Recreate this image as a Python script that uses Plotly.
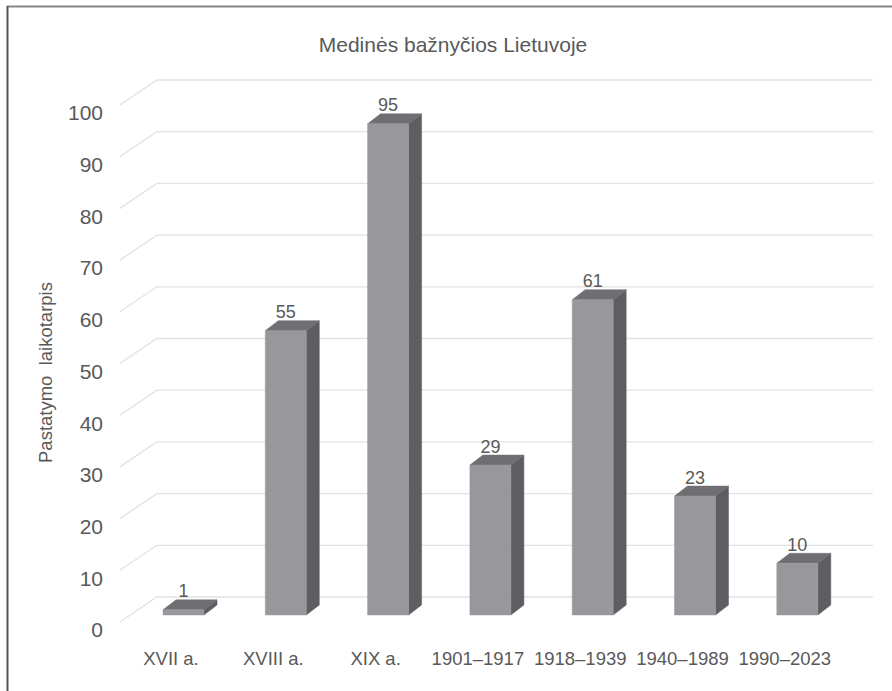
import plotly.graph_objects as go

# ---------------- data ----------------
categories = ["XVII a.", "XVIII a.", "XIX a.", "1901–1917", "1918–1939", "1940–1989", "1990–2023"]
values = [1, 55, 95, 29, 61, 23, 10]
y_ticks = [0, 10, 20, 30, 40, 50, 60, 70, 80, 90, 100]
chart_title = "Medinės bažnyčios Lietuvoje"
y_title = "Pastatymo\u00a0 laikotarpis"

# ---------------- geometry (pixels -> axis units) ----------------
W, H = 892, 691
CAT_PX = 102.3          # px per category
X0_PX = 171.0           # px of first category centre (front plane)
PX_PER_UNIT = 5.17      # px per value unit
Y0_PX = 622.0           # px of value 0 (front plane)

WALL_DX = 37 / CAT_PX
WALL_DY = 25 / PX_PER_UNIT
BAR_FX = 12.5 / CAT_PX
BAR_FY = 7 / PX_PER_UNIT
BAR_DX = 13 / CAT_PX
BAR_DY = 10 / PX_PER_UNIT
BAR_W = 41 / CAT_PX
LABEL_SHIFT = 8 / PX_PER_UNIT
VALUE_LABEL_DROP = 2 / PX_PER_UNIT

PLOT_LEFT_PX = 104
PLOT_BOTTOM_PX = 645

x_range = [(PLOT_LEFT_PX - X0_PX) / CAT_PX, (W - X0_PX) / CAT_PX]
y_range = [(Y0_PX - PLOT_BOTTOM_PX) / PX_PER_UNIT, Y0_PX / PX_PER_UNIT]

TEXT = "#595959"
FONT = "Liberation Sans"
FRONT = "#98989c"
SIDE = "#5e5e62"
TOP = "#6f6f73"
GRID = "#e2e2e2"

n = len(categories)
idx = list(range(n))

fig = go.Figure()

# gridlines on back wall + left wall
gx, gy = [], []
for t in y_ticks:
    gx += [-0.5, -0.5 + WALL_DX, (n - 0.5) + WALL_DX, None]
    gy += [t, t + WALL_DY, t + WALL_DY, None]
fig.add_trace(go.Scatter(x=gx, y=gy, mode="lines", line=dict(color=GRID, width=1.3),
                         hoverinfo="skip", showlegend=False))

# faces of the 3-D columns
fx, fy, sx, sy, tx, ty = [], [], [], [], [], []
for i, v in zip(idx, values):
    xl = i + BAR_FX - BAR_W / 2
    xr = i + BAR_FX + BAR_W / 2
    b = BAR_FY
    fx += [xl, xr, xr, xl, xl, None]
    fy += [b, b, b + v, b + v, b, None]
    sx += [xr, xr + BAR_DX, xr + BAR_DX, xr, xr, None]
    sy += [b, b + BAR_DY, b + v + BAR_DY, b + v, b, None]
    tx += [xl, xr, xr + BAR_DX, xl + BAR_DX, xl, None]
    ty += [b + v, b + v, b + v + BAR_DY, b + v + BAR_DY, b + v, None]
for px_, py_, col in ((sx, sy, SIDE), (tx, ty, TOP), (fx, fy, FRONT)):
    fig.add_trace(go.Scatter(x=px_, y=py_, mode="lines", fill="toself", fillcolor=col,
                             line=dict(color=col, width=0.5), hoverinfo="skip", showlegend=False))

# value labels
fig.add_trace(go.Scatter(x=[i + BAR_FX for i in idx],
                         y=[BAR_FY + v + BAR_DY - VALUE_LABEL_DROP for v in values],
                         mode="text", text=[str(v) for v in values], textposition="top center",
                         textfont=dict(family=FONT, size=18, color=TEXT),
                         hoverinfo="skip", showlegend=False))

fig.update_layout(
    width=W, height=H, template="none",
    margin=dict(l=0, r=0, t=0, b=0),
    paper_bgcolor="white", plot_bgcolor="rgba(0,0,0,0)",
    title=dict(text=chart_title, x=453 / W, y=1 - 45 / H, xanchor="center", yanchor="middle",
               font=dict(family=FONT, size=21, color=TEXT)),
    xaxis=dict(domain=[PLOT_LEFT_PX / W, 1], range=x_range, tickmode="array", tickvals=idx,
               ticktext=categories, showgrid=False, zeroline=False, showline=False, ticks="",
               tickfont=dict(family=FONT, size=18.5, color=TEXT), fixedrange=True),
    yaxis=dict(domain=[(H - PLOT_BOTTOM_PX) / H, 1], range=y_range, tickmode="array",
               tickvals=[t - LABEL_SHIFT for t in y_ticks], ticktext=[str(t) for t in y_ticks],
               showgrid=False, zeroline=False, showline=False, ticks="",
               tickfont=dict(family=FONT, size=21, color=TEXT), fixedrange=True),
    annotations=[dict(text=y_title, xref="paper", yref="paper", x=45 / W, y=1 - 373 / H,
                      textangle=-90, showarrow=False, xanchor="center", yanchor="middle",
                      font=dict(family=FONT, size=18.5, color=TEXT))],
    shapes=[
        dict(type="line", xref="paper", yref="paper", x0=7 / W, x1=1, y0=1 - 6.5 / H, y1=1 - 6.5 / H,
             line=dict(color="#858585", width=2)),
        dict(type="line", xref="paper", yref="paper", x0=7.5 / W, x1=7.5 / W, y0=0, y1=1 - 6 / H,
             line=dict(color="#555555", width=2)),
    ],
)

fig.write_html("out.html", config={"displayModeBar": False, "staticPlot": True},
               post_script="document.body.style.margin='0px';document.body.style.overflow='hidden';")
